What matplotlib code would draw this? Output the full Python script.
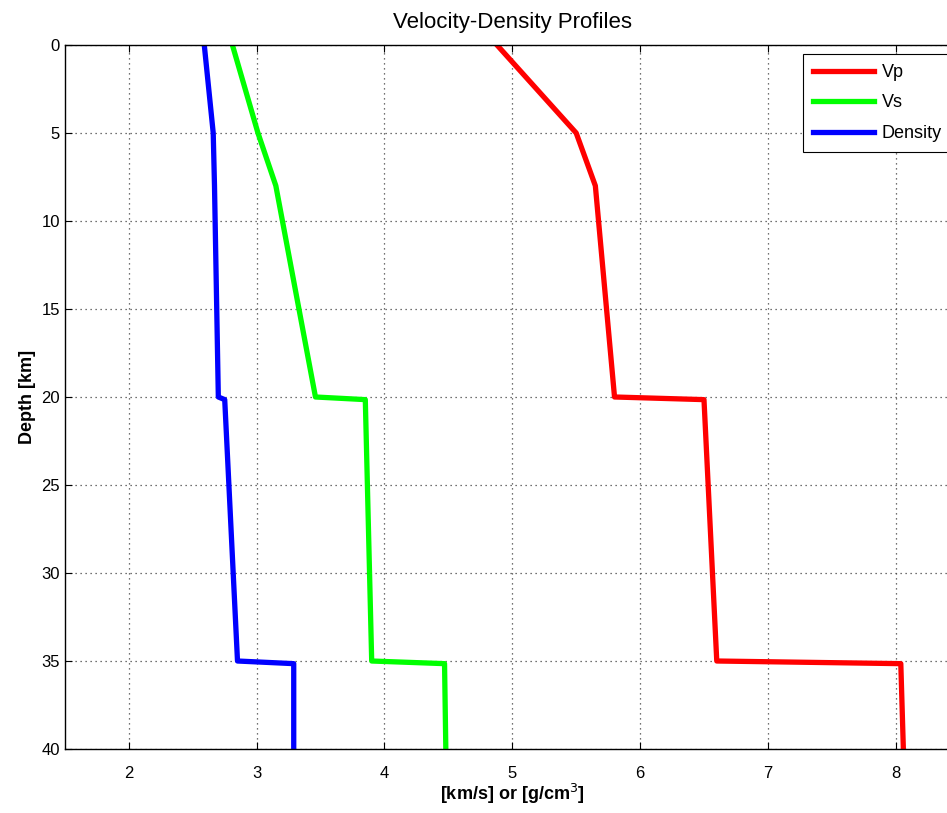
import matplotlib.pyplot as plt

plt.rcParams['font.family'] = ['Liberation Sans', 'DejaVu Sans']

# depth samples [km]
depth = [0, 5, 8, 20, 20.15, 35, 35.15, 40]
vp = [4.88, 5.50, 5.65, 5.80, 6.50, 6.60, 8.04, 8.06]
vs = [2.81, 3.01, 3.15, 3.46, 3.85, 3.90, 4.47, 4.48]
rho = [2.59, 2.66, 2.67, 2.70, 2.75, 2.85, 3.29, 3.29]

fig = plt.figure(figsize=(9.47, 8.13), dpi=100)
ax = fig.add_axes([0.0686, 0.0787, 0.9447, 0.866])

ax.plot(vp, depth, color='#ff0000', lw=3.8, label='Vp')
ax.plot(vs, depth, color='#00ff00', lw=3.8, label='Vs')
ax.plot(rho, depth, color='#0000ff', lw=3.8, label='Density')

ax.set_xlim(1.5, 8.5)
ax.set_ylim(40, 0)
ax.set_xticks(range(2, 9))
ax.set_yticks(range(0, 41, 5))
ax.grid(True, linestyle=(0, (1, 3)), color='#444444', lw=0.9)
ax.tick_params(direction='in', labelsize=12, length=5, top=True, right=False)
ax.tick_params(axis='x', pad=12)
for s in ax.spines.values():
    s.set_linewidth(1.0)
ax.spines['right'].set_visible(False)

ax.set_title('Velocity-Density Profiles', fontsize=16, pad=12)
ax.set_xlabel('[km/s] or [g/cm$^3$]', fontsize=13, fontweight='bold', labelpad=1)
ax.set_ylabel('Depth [km]', fontsize=13, fontweight='bold')

leg = ax.legend(loc='upper left', bbox_to_anchor=(803 / 947, 1 - 54 / 813),
                bbox_transform=fig.transFigure, borderaxespad=0, fontsize=13,
                fancybox=False, edgecolor='black', framealpha=1,
                handlelength=3.4, labelspacing=0.75, handletextpad=0.4,
                borderpad=0.55)
leg.get_frame().set_linewidth(0.8)

fig.savefig('out.png', dpi=100)
